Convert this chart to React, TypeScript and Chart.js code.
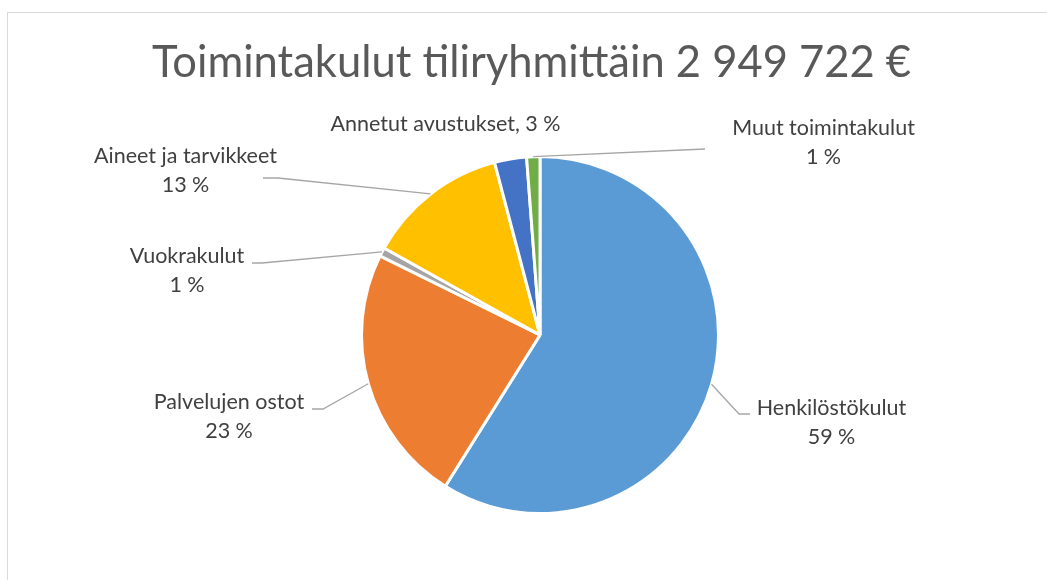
import React, { useEffect, useRef } from "react";
import { Chart, registerables } from "chart.js";

Chart.register(...registerables);

const titleText = "Toimintakulut tiliryhmittäin 2 949 722 €";
const categories = [
  "Henkilöstökulut",
  "Palvelujen ostot",
  "Vuokrakulut",
  "Aineet ja tarvikkeet",
  "Annetut avustukset",
  "Muut toimintakulut",
];
const shares = [58.9, 23.4, 0.8, 12.8, 2.9, 1.2];
const percentLabels = ["59 %", "23 %", "1 %", "13 %", "3 %", "1 %"];
const singleLine = [false, false, false, false, true, false];
const colors = ["#5B9BD5", "#ED7D31", "#A5A5A5", "#FFC000", "#4472C4", "#70AD47"];

// label layout relative to pie centre: text centre x, first baseline y, leader elbow, leader end
const labelLayout = [
  { tx: 291.5, ty: 80, ex: 199, ey: 79, lx: 210, ly: 79, leader: true },
  { tx: -311, ty: 74, ex: -217, ey: 74, lx: -228, ly: 74, leader: true },
  { tx: -353, ty: -72, ex: -278, ey: -72, lx: -288, ly: -72, leader: true },
  { tx: -354.5, ty: -172, ex: -262, ey: -157, lx: -277, ly: -157, leader: true },
  { tx: -94.5, ty: -204, ex: 0, ey: 0, lx: 0, ly: 0, leader: false },
  { tx: 283.5, ty: -200, ex: 165, ey: -186, lx: 165, ly: -186, leader: true },
];

const FONT = "Lato, 'Open Sans', sans-serif";

const decorPlugin = {
  id: "decor",
  beforeDraw(chart: any) {
    const ctx = chart.ctx;
    ctx.save();
    ctx.fillStyle = "#ffffff";
    ctx.fillRect(0, 0, chart.width, chart.height);
    ctx.strokeStyle = "#D9D9D9";
    ctx.lineWidth = 1;
    ctx.strokeRect(7.5, 12.5, chart.width + 20, chart.height + 20);
    ctx.restore();
  },
  afterDraw(chart: any) {
    const ctx = chart.ctx;
    const meta = chart.getDatasetMeta(0);
    ctx.save();
    // title
    ctx.fillStyle = "#595959";
    ctx.font = `43.5px ${FONT}`;
    ctx.textAlign = "center";
    ctx.textBaseline = "alphabetic";
    ctx.fillText(titleText, 531.5, 77);

    meta.data.forEach((arc: any, i: number) => {
      const p = arc.getProps(["x", "y", "startAngle", "endAngle", "outerRadius"], true);
      const cx = p.x;
      const cy = p.y;
      const L = labelLayout[i];
      if (L.leader) {
        const mid = (p.startAngle + p.endAngle) / 2;
        const sx = cx + Math.cos(mid) * p.outerRadius;
        const sy = cy + Math.sin(mid) * p.outerRadius;
        ctx.strokeStyle = "#A6A6A6";
        ctx.lineWidth = 1.3;
        ctx.beginPath();
        ctx.moveTo(sx, sy);
        ctx.lineTo(cx + L.ex, cy + L.ey);
        ctx.lineTo(cx + L.lx, cy + L.ly);
        ctx.stroke();
      }
      ctx.fillStyle = "#404040";
      ctx.font = `21.5px ${FONT}`;
      ctx.textAlign = "center";
      if (singleLine[i]) {
        ctx.fillText(`${categories[i]}, ${percentLabels[i]}`, cx + L.tx, cy + L.ty);
      } else {
        ctx.fillText(categories[i], cx + L.tx, cy + L.ty);
        ctx.fillText(percentLabels[i], cx + L.tx, cy + L.ty + 29);
      }
    });
    ctx.restore();
  },
};

export default function App() {
  const ref = useRef<HTMLCanvasElement | null>(null);
  useEffect(() => {
    if (!ref.current) return;
    const chart = new Chart(ref.current, {
      type: "pie",
      data: {
        labels: categories,
        datasets: [
          {
            data: shares,
            backgroundColor: colors,
            borderColor: "#ffffff",
            borderWidth: 3,
          },
        ],
      },
      options: {
        animation: false,
        responsive: false,
        layout: { padding: { left: 360, right: 327, top: 155, bottom: 65 } },
        plugins: {
          legend: { display: false },
          tooltip: { enabled: false },
          title: { display: false },
        },
      },
      plugins: [decorPlugin],
    });
    return () => chart.destroy();
  }, []);
  return (
    <div style={{ position: "absolute", left: 0, top: 0, width: 1047, height: 580 }}>
      <canvas ref={ref} width={1047} height={580} style={{ width: 1047, height: 580 }} />
    </div>
  );
}
